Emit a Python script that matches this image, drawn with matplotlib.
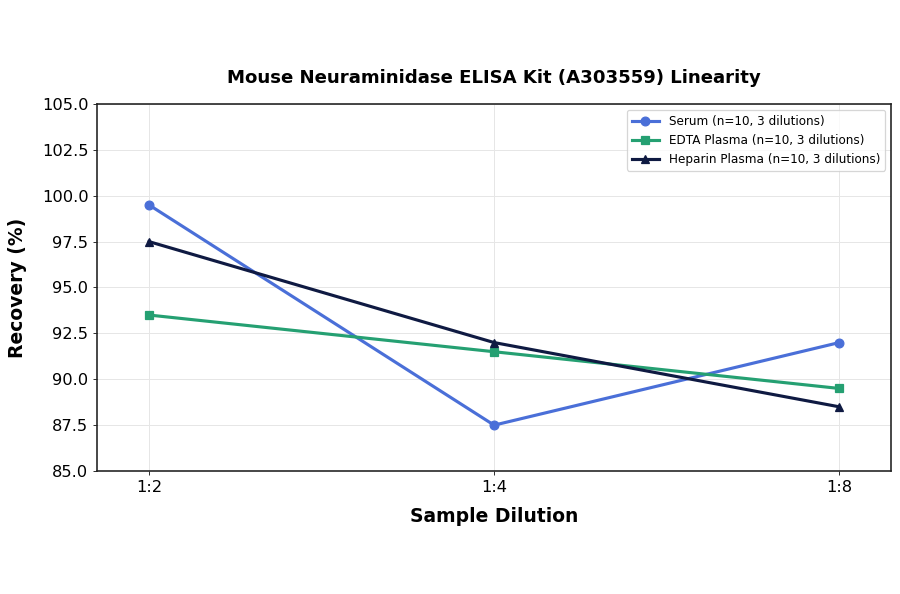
import matplotlib
matplotlib.use("Agg")
import matplotlib.pyplot as plt

# Datos
diluciones = ["1:2", "1:4", "1:8"]
serum = [99.5, 87.5, 92.0]
edta = [93.5, 91.5, 89.5]
heparin = [97.5, 92.0, 88.5]

fig = plt.figure(figsize=(10, 6.6), dpi=90)
ax = fig.add_axes([0.108, 0.207, 0.882, 0.618])

x = range(len(diluciones))
ax.plot(x, serum, marker="o", color="#4a6fd8", linewidth=2.5, markersize=7,
        label="Serum (n=10, 3 dilutions)")
ax.plot(x, edta, marker="s", color="#25a072", linewidth=2.5, markersize=7,
        label="EDTA Plasma (n=10, 3 dilutions)")
ax.plot(x, heparin, marker="^", color="#0f1a42", linewidth=2.5, markersize=7,
        label="Heparin Plasma (n=10, 3 dilutions)")

ax.set_xticks(list(x))
ax.set_xticklabels(diluciones)
ax.set_xlim(-0.15, 2.15)
ax.set_ylim(85, 105)
ax.set_yticks([85, 87.5, 90, 92.5, 95, 97.5, 100, 102.5, 105])
ax.tick_params(labelsize=13, color="#333333")
ax.grid(True, color="#e6e6e6", linewidth=0.8)
for s in ax.spines.values():
    s.set_color("#222222")
    s.set_linewidth(1.3)

ax.set_xlabel("Sample Dilution", fontsize=15, fontweight="bold", labelpad=10)
ax.set_ylabel("Recovery (%)", fontsize=15, fontweight="bold", labelpad=12)
ax.set_title("Mouse Neuraminidase ELISA Kit (A303559) Linearity",
             fontsize=14.5, fontweight="bold", pad=17)
ax.legend(loc="upper right", fontsize=9.6, handlelength=2.3)

fig.savefig("out.png", dpi=90)
